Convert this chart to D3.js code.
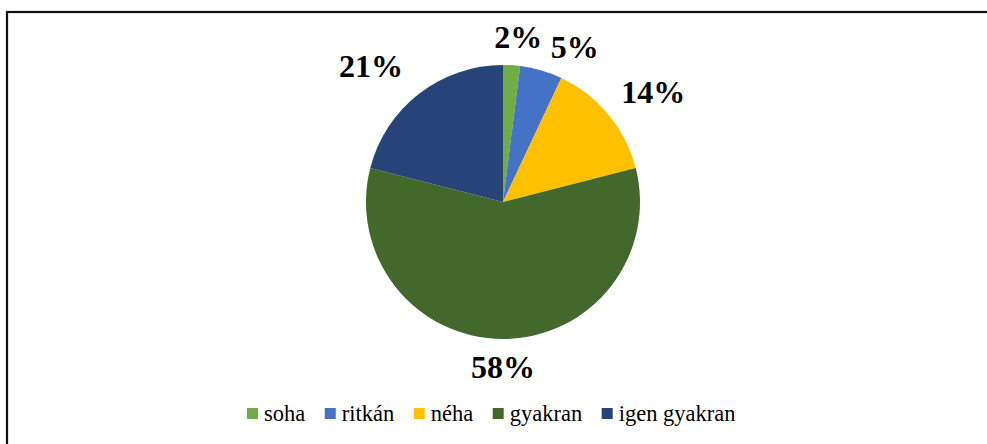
<!DOCTYPE html>
<html>
<head>
<meta charset="utf-8">
<script src="https://cdn.jsdelivr.net/npm/d3@7"></script>
<style>
  body { margin: 0; background: #fff; }
  svg { display: block; }
</style>
</head>
<body>
<svg id="chart" width="987" height="444"></svg>
<script>
// data
var categories = ['soha', 'ritkán', 'néha', 'gyakran', 'igen gyakran'];
var values = [2, 5, 14, 58, 21];
var colors = ['#70AD47', '#4472C4', '#FFC000', '#43682B', '#264478'];

// label nudges (excel moves labels a bit to avoid overlaps)
var nudge = [[4, 0], [22, 3], [7, -5], [0, 0], [-18, -6]];

var FONT = "'Liberation Serif'";
var svg = d3.select('#chart');
var cx = 503, cy = 202, r = 137;

// outer frame (only top/left edges fall inside the picture)
svg.append('rect')
    .attr('x', 7).attr('y', 12)
    .attr('width', 1100).attr('height', 600)
    .attr('fill', 'none')
    .attr('stroke', '#111')
    .attr('stroke-width', 2.2);

var pie = d3.pie().sort(null).value(function(d) { return d; });
var arcs = pie(values);
var arc = d3.arc().innerRadius(0).outerRadius(r);

var g = svg.append('g').attr('transform', 'translate(' + cx + ',' + cy + ')');

g.selectAll('path.slice')
    .data(arcs)
    .enter().append('path')
    .attr('class', 'slice')
    .attr('d', arc)
    .attr('fill', function(d, i) { return colors[i]; });

// labels outside the end of each slice
var fs = 32, pad = 17;
g.selectAll('text.lbl')
    .data(arcs)
    .enter().append('text')
    .attr('class', 'lbl')
    .style('font-family', FONT)
    .style('font-weight', 'bold')
    .style('font-size', fs + 'px')
    .attr('text-anchor', 'middle')
    .attr('fill', '#000')
    .text(function(d) { return d.value + '%'; })
    .each(function(d, i) {
        var a = (d.startAngle + d.endAngle) / 2;
        var w = this.getComputedTextLength();
        var h = 22;
        var x = Math.sin(a) * (r + pad) + Math.sin(a) * w / 2 + nudge[i][0];
        var y = -Math.cos(a) * (r + pad) - Math.cos(a) * h / 2 + nudge[i][1];
        d3.select(this).attr('x', x).attr('y', y + h / 2);
    });

// legend
var legend = svg.append('g');
var lx = 247, ly = 408, box = 11, gapText = 6, gapItem = 19.5;
categories.forEach(function(c, i) {
    legend.append('rect')
        .attr('x', lx).attr('y', ly)
        .attr('width', box).attr('height', box)
        .attr('fill', colors[i]);
    var t = legend.append('text')
        .attr('x', lx + box + gapText)
        .attr('y', ly + 13)
        .style('font-family', FONT)
        .style('font-size', '22.5px')
        .attr('fill', '#000')
        .text(c);
    lx = lx + box + gapText + t.node().getComputedTextLength() + gapItem;
});
</script>
</body>
</html>
